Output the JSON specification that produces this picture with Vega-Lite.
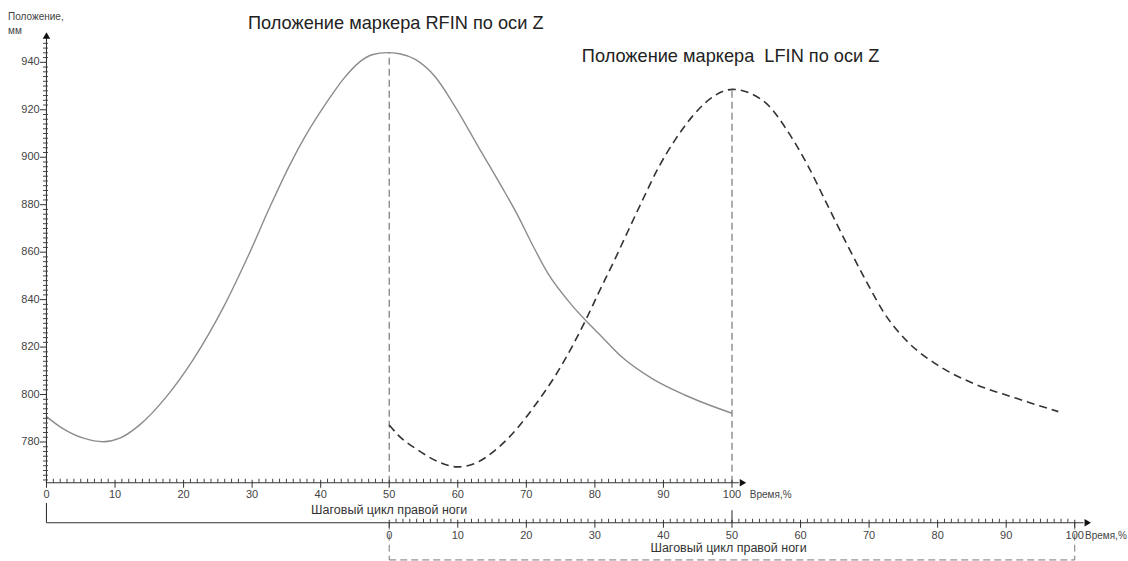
{
  "$schema": "https://vega.github.io/schema/vega-lite/v6.json",
  "width": 1128,
  "height": 561,
  "padding": 0,
  "autosize": {"type": "none"},
  "background": "white",
  "config": {"view": {"stroke": null}, "text": {"font": "Liberation Sans"}},
  "datasets": {
    "rfin": [
      {"x": 0, "y": 790.7}, {"x": 2.0, "y": 786.4}, {"x": 5.4, "y": 781.6}, {"x": 8.3, "y": 780.1},
      {"x": 10.7, "y": 781.6}, {"x": 13.6, "y": 787.2}, {"x": 17.5, "y": 799.1}, {"x": 21.4, "y": 814.7},
      {"x": 25.8, "y": 836.7}, {"x": 29.5, "y": 858.9}, {"x": 32.6, "y": 879.1}, {"x": 35.5, "y": 896.8},
      {"x": 37.9, "y": 909.6}, {"x": 39.9, "y": 918.9}, {"x": 41.8, "y": 927.0}, {"x": 43.3, "y": 932.9},
      {"x": 45.7, "y": 940.2}, {"x": 47.5, "y": 943.2}, {"x": 49.7, "y": 944.1}, {"x": 51.5, "y": 943.6},
      {"x": 53.8, "y": 941.2}, {"x": 56.7, "y": 933.9}, {"x": 59.6, "y": 921.3}, {"x": 63.0, "y": 904.4},
      {"x": 66.4, "y": 887.6}, {"x": 68.8, "y": 875.2}, {"x": 71.0, "y": 862.5}, {"x": 73.2, "y": 850.8},
      {"x": 76.6, "y": 837.8}, {"x": 78.6, "y": 831.4}, {"x": 81.0, "y": 824.4}, {"x": 83.9, "y": 815.9},
      {"x": 88.3, "y": 806.8}, {"x": 93.1, "y": 799.8}, {"x": 100.0, "y": 792.1}
    ],
    "lfin": [
      {"x": 50.0, "y": 787.2}, {"x": 51.3, "y": 782.9}, {"x": 54.2, "y": 776.6}, {"x": 57.2, "y": 771.6},
      {"x": 60.0, "y": 769.5}, {"x": 62.5, "y": 771.0}, {"x": 65.9, "y": 777.6}, {"x": 68.8, "y": 786.2},
      {"x": 71.3, "y": 795.6}, {"x": 74.2, "y": 807.8}, {"x": 76.6, "y": 819.8}, {"x": 78.6, "y": 831.0},
      {"x": 80.5, "y": 842.6}, {"x": 83.0, "y": 857.5}, {"x": 84.4, "y": 866.2}, {"x": 86.8, "y": 881.0},
      {"x": 89.25, "y": 895.5}, {"x": 91.7, "y": 907.3}, {"x": 94.1, "y": 916.8}, {"x": 97.0, "y": 925.0},
      {"x": 100.1, "y": 928.6}, {"x": 102.6, "y": 927.0}, {"x": 105.5, "y": 921.3}, {"x": 108.0, "y": 911.5},
      {"x": 110.9, "y": 897.4}, {"x": 113.8, "y": 880.6}, {"x": 116.7, "y": 863.7}, {"x": 119.65, "y": 847.4},
      {"x": 122.1, "y": 834.8}, {"x": 125.5, "y": 822.6}, {"x": 129.9, "y": 812.6}, {"x": 135.2, "y": 804.7},
      {"x": 141.5, "y": 798.4}, {"x": 147.6, "y": 792.8}
    ],
    "guides": [
      {"x": 50, "y": 762.85, "x2": 50, "y2": 944.1},
      {"x": 100, "y": 762.85, "x2": 100, "y2": 928.6}
    ],
    "axes": [
      {"x": 0, "y": 762.85, "x2": 0, "y2": 950.5},
      {"x": 0, "y": 762.85, "x2": 101, "y2": 762.85},
      {"x": 0, "y": 746, "x2": 151.3, "y2": 746},
      {"x": 0, "y": 754.3, "x2": 0, "y2": 746},
      {"x": 100, "y": 751.2, "x2": 100, "y2": 746}
    ],
    "brk": [
      {"x": 50, "y": 746, "x2": 50, "y2": 730.3},
      {"x": 50, "y": 730.3, "x2": 150, "y2": 730.3},
      {"x": 150, "y": 746, "x2": 150, "y2": 730.3}
    ],
    "minor": [
      {"x": 1}, {"x": 2}, {"x": 3}, {"x": 4}, {"x": 5}, {"x": 6}, {"x": 7}, {"x": 8}, {"x": 9},
      {"x": 11}, {"x": 12}, {"x": 13}, {"x": 14}, {"x": 15}, {"x": 16}, {"x": 17}, {"x": 18}, {"x": 19},
      {"x": 21}, {"x": 22}, {"x": 23}, {"x": 24}, {"x": 25}, {"x": 26}, {"x": 27}, {"x": 28}, {"x": 29},
      {"x": 31}, {"x": 32}, {"x": 33}, {"x": 34}, {"x": 35}, {"x": 36}, {"x": 37}, {"x": 38}, {"x": 39},
      {"x": 41}, {"x": 42}, {"x": 43}, {"x": 44}, {"x": 45}, {"x": 46}, {"x": 47}, {"x": 48}, {"x": 49},
      {"x": 51}, {"x": 52}, {"x": 53}, {"x": 54}, {"x": 55}, {"x": 56}, {"x": 57}, {"x": 58}, {"x": 59},
      {"x": 61}, {"x": 62}, {"x": 63}, {"x": 64}, {"x": 65}, {"x": 66}, {"x": 67}, {"x": 68}, {"x": 69},
      {"x": 71}, {"x": 72}, {"x": 73}, {"x": 74}, {"x": 75}, {"x": 76}, {"x": 77}, {"x": 78}, {"x": 79},
      {"x": 81}, {"x": 82}, {"x": 83}, {"x": 84}, {"x": 85}, {"x": 86}, {"x": 87}, {"x": 88}, {"x": 89},
      {"x": 91}, {"x": 92}, {"x": 93}, {"x": 94}, {"x": 95}, {"x": 96}, {"x": 97}, {"x": 98}, {"x": 99},
      {"x": 101}, {"x": 102}, {"x": 103}, {"x": 104}, {"x": 105}, {"x": 106}, {"x": 107}, {"x": 108}, {"x": 109},
      {"x": 111}, {"x": 112}, {"x": 113}, {"x": 114}, {"x": 115}, {"x": 116}, {"x": 117}, {"x": 118}, {"x": 119},
      {"x": 121}, {"x": 122}, {"x": 123}, {"x": 124}, {"x": 125}, {"x": 126}, {"x": 127}, {"x": 128}, {"x": 129},
      {"x": 131}, {"x": 132}, {"x": 133}, {"x": 134}, {"x": 135}, {"x": 136}, {"x": 137}, {"x": 138}, {"x": 139},
      {"x": 141}, {"x": 142}, {"x": 143}, {"x": 144}, {"x": 145}, {"x": 146}, {"x": 147}, {"x": 148}, {"x": 149}
    ],
    "xlab1": [
      {"x": 0, "label": "0"}, {"x": 10, "label": "10"}, {"x": 20, "label": "20"}, {"x": 30, "label": "30"},
      {"x": 40, "label": "40"}, {"x": 50, "label": "50"}, {"x": 60, "label": "60"}, {"x": 70, "label": "70"},
      {"x": 80, "label": "80"}, {"x": 90, "label": "90"}, {"x": 100, "label": "100"}
    ],
    "xlab2": [
      {"x": 50, "label": "0"}, {"x": 60, "label": "10"}, {"x": 70, "label": "20"}, {"x": 80, "label": "30"},
      {"x": 90, "label": "40"}, {"x": 100, "label": "50"}, {"x": 110, "label": "60"}, {"x": 120, "label": "70"},
      {"x": 130, "label": "80"}, {"x": 140, "label": "90"}, {"x": 150, "label": "100"}
    ],
    "ymin": [
      {"y": 764}, {"y": 766}, {"y": 768}, {"y": 770}, {"y": 772}, {"y": 774}, {"y": 776}, {"y": 778},
      {"y": 782}, {"y": 784}, {"y": 786}, {"y": 788}, {"y": 790}, {"y": 792}, {"y": 794}, {"y": 796}, {"y": 798},
      {"y": 802}, {"y": 804}, {"y": 806}, {"y": 808}, {"y": 810}, {"y": 812}, {"y": 814}, {"y": 816}, {"y": 818},
      {"y": 822}, {"y": 824}, {"y": 826}, {"y": 828}, {"y": 830}, {"y": 832}, {"y": 834}, {"y": 836}, {"y": 838},
      {"y": 842}, {"y": 844}, {"y": 846}, {"y": 848}, {"y": 850}, {"y": 852}, {"y": 854}, {"y": 856}, {"y": 858},
      {"y": 862}, {"y": 864}, {"y": 866}, {"y": 868}, {"y": 870}, {"y": 872}, {"y": 874}, {"y": 876}, {"y": 878},
      {"y": 882}, {"y": 884}, {"y": 886}, {"y": 888}, {"y": 890}, {"y": 892}, {"y": 894}, {"y": 896}, {"y": 898},
      {"y": 902}, {"y": 904}, {"y": 906}, {"y": 908}, {"y": 910}, {"y": 912}, {"y": 914}, {"y": 916}, {"y": 918},
      {"y": 922}, {"y": 924}, {"y": 926}, {"y": 928}, {"y": 930}, {"y": 932}, {"y": 934}, {"y": 936}, {"y": 938},
      {"y": 942}, {"y": 944}, {"y": 946}, {"y": 948}
    ],
    "ymaj": [
      {"y": 780, "label": "780"}, {"y": 800, "label": "800"}, {"y": 820, "label": "820"}, {"y": 840, "label": "840"},
      {"y": 860, "label": "860"}, {"y": 880, "label": "880"}, {"y": 900, "label": "900"}, {"y": 920, "label": "920"},
      {"y": 940, "label": "940"}
    ]
  },
  "layer": [
    {
      "data": {"name": "guides"},
      "mark": {"type": "rule", "color": "#777777", "strokeWidth": 1.2, "strokeDash": [7, 4]},
      "encoding": {
        "x": {"field": "x", "type": "quantitative", "scale": {"domain": [-6.78, 157.77], "nice": false, "zero": false}, "axis": null},
        "y": {"field": "y", "type": "quantitative", "scale": {"domain": [729.85, 966.26], "nice": false, "zero": false}, "axis": null},
        "x2": {"field": "x2"}, "y2": {"field": "y2"}
      }
    },
    {
      "data": {"name": "brk"},
      "mark": {"type": "rule", "color": "#777777", "strokeWidth": 1, "strokeDash": [7, 4]},
      "encoding": {
        "x": {"field": "x", "type": "quantitative"},
        "y": {"field": "y", "type": "quantitative"},
        "x2": {"field": "x2"}, "y2": {"field": "y2"}
      }
    },
    {
      "data": {"name": "rfin"},
      "mark": {"type": "line", "color": "#8c8c8c", "strokeWidth": 1.4, "interpolate": "monotone"},
      "encoding": {
        "x": {"field": "x", "type": "quantitative"},
        "y": {"field": "y", "type": "quantitative"},
        "order": {"field": "x"}
      }
    },
    {
      "data": {"name": "lfin"},
      "mark": {"type": "line", "color": "#333333", "strokeWidth": 1.6, "strokeDash": [8, 5], "interpolate": "monotone"},
      "encoding": {
        "x": {"field": "x", "type": "quantitative"},
        "y": {"field": "y", "type": "quantitative"},
        "order": {"field": "x"}
      }
    },
    {
      "data": {"name": "axes"},
      "mark": {"type": "rule", "color": "#333333", "strokeWidth": 1.1},
      "encoding": {
        "x": {"field": "x", "type": "quantitative"},
        "y": {"field": "y", "type": "quantitative"},
        "x2": {"field": "x2"}, "y2": {"field": "y2"}
      }
    },
    {
      "data": {"name": "minor"},
      "transform": [{"filter": "datum.x <= 100"}],
      "mark": {"type": "tick", "orient": "vertical", "size": 4, "thickness": 1, "color": "#444444", "opacity": 1, "yOffset": -2},
      "encoding": {
        "x": {"field": "x", "type": "quantitative"},
        "y": {"datum": 762.85, "type": "quantitative"}
      }
    },
    {
      "data": {"name": "minor"},
      "transform": [{"filter": "datum.x >= 50"}],
      "mark": {"type": "tick", "orient": "vertical", "size": 4, "thickness": 1, "color": "#444444", "opacity": 1, "yOffset": -2},
      "encoding": {
        "x": {"field": "x", "type": "quantitative"},
        "y": {"datum": 746, "type": "quantitative"}
      }
    },
    {
      "data": {"name": "xlab1"},
      "mark": {"type": "tick", "orient": "vertical", "size": 8, "thickness": 1, "color": "#333333", "opacity": 1, "yOffset": 1},
      "encoding": {
        "x": {"field": "x", "type": "quantitative"},
        "y": {"datum": 762.85, "type": "quantitative"}
      }
    },
    {
      "data": {"name": "xlab2"},
      "mark": {"type": "tick", "orient": "vertical", "size": 8, "thickness": 1, "color": "#333333", "opacity": 1, "yOffset": 1},
      "encoding": {
        "x": {"field": "x", "type": "quantitative"},
        "y": {"datum": 746, "type": "quantitative"}
      }
    },
    {
      "data": {"name": "ymin"},
      "mark": {"type": "tick", "orient": "horizontal", "size": 5, "thickness": 1, "color": "#444444", "opacity": 1, "xOffset": -1},
      "encoding": {
        "x": {"datum": 0, "type": "quantitative"},
        "y": {"field": "y", "type": "quantitative"}
      }
    },
    {
      "data": {"name": "ymaj"},
      "mark": {"type": "tick", "orient": "horizontal", "size": 7, "thickness": 1, "color": "#333333", "opacity": 1, "xOffset": -3},
      "encoding": {
        "x": {"datum": 0, "type": "quantitative"},
        "y": {"field": "y", "type": "quantitative"}
      }
    },
    {
      "data": {"values": [{"x": 0, "y": 951.3}]},
      "mark": {"type": "point", "shape": "triangle-up", "filled": true, "color": "#111111", "opacity": 1, "size": 55},
      "encoding": {
        "x": {"field": "x", "type": "quantitative"},
        "y": {"field": "y", "type": "quantitative"}
      }
    },
    {
      "data": {"values": [{"x": 101.6, "y": 762.85}, {"x": 151.9, "y": 746}]},
      "mark": {"type": "point", "shape": "triangle-right", "filled": true, "color": "#111111", "opacity": 1, "size": 55},
      "encoding": {
        "x": {"field": "x", "type": "quantitative"},
        "y": {"field": "y", "type": "quantitative"}
      }
    },
    {
      "data": {"name": "ymaj"},
      "mark": {"type": "text", "align": "right", "baseline": "middle", "fontSize": 11, "color": "#444444"},
      "encoding": {
        "x": {"datum": -1.0, "type": "quantitative"},
        "y": {"field": "y", "type": "quantitative"},
        "text": {"field": "label"}
      }
    },
    {
      "data": {"name": "xlab1"},
      "mark": {"type": "text", "align": "center", "baseline": "middle", "fontSize": 11, "color": "#444444"},
      "encoding": {
        "x": {"field": "x", "type": "quantitative"},
        "y": {"datum": 757.7, "type": "quantitative"},
        "text": {"field": "label"}
      }
    },
    {
      "data": {"name": "xlab2"},
      "mark": {"type": "text", "align": "center", "baseline": "middle", "fontSize": 11, "color": "#444444"},
      "encoding": {
        "x": {"field": "x", "type": "quantitative"},
        "y": {"datum": 740.3, "type": "quantitative"},
        "text": {"field": "label"}
      }
    },
    {
      "data": {"values": [
        {"x": 102.6, "y": 757.7, "t": "Время,%"},
        {"x": 151.5, "y": 740.3, "t": "Время,%"},
        {"x": -5.6, "y": 959.2, "t": "Положение,"},
        {"x": -5.6, "y": 953.3, "t": "мм"}
      ]},
      "mark": {"type": "text", "align": "left", "baseline": "middle", "fontSize": 10, "color": "#444444"},
      "encoding": {
        "x": {"field": "x", "type": "quantitative"},
        "y": {"field": "y", "type": "quantitative"},
        "text": {"field": "t"}
      }
    },
    {
      "data": {"values": [
        {"x": 50, "y": 751.3, "t": "Шаговый цикл правой ноги"},
        {"x": 99.5, "y": 735.3, "t": "Шаговый цикл правой ноги"}
      ]},
      "mark": {"type": "text", "align": "center", "baseline": "middle", "fontSize": 12.5, "color": "#333333"},
      "encoding": {
        "x": {"field": "x", "type": "quantitative"},
        "y": {"field": "y", "type": "quantitative"},
        "text": {"field": "t"}
      }
    },
    {
      "data": {"values": [
        {"x": 29.4, "y": 956.1, "t": "Положение маркера RFIN по оси Z"},
        {"x": 78.1, "y": 942.2, "t": "Положение маркера\u00a0 LFIN по оси Z"}
      ]},
      "mark": {"type": "text", "align": "left", "baseline": "middle", "fontSize": 18.2, "color": "#222222"},
      "encoding": {
        "x": {"field": "x", "type": "quantitative"},
        "y": {"field": "y", "type": "quantitative"},
        "text": {"field": "t"}
      }
    }
  ]
}
